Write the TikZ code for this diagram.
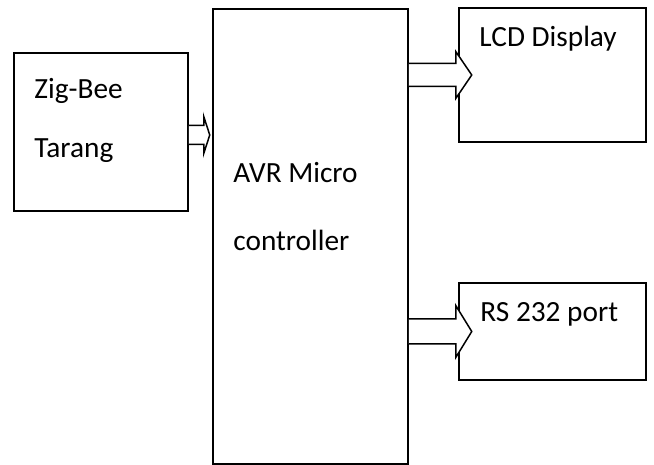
\documentclass[tikz,border=0pt]{standalone}
\usepackage{fontspec}
\setmainfont{Carlito}
\usetikzlibrary{calc, positioning}

% hollow block arrow: start, shaft length, head length, shaft half, head half
\newcommand{\fatarrow}[5]{%
  \fill[white] ($#1+(0,#4)$) -- ++(#2,0) -- ++(0,#5-#4) -- ++(#3,-#5) -- ++(-#3,-#5) -- ++(0,#5-#4) -- ++(-#2,0) -- cycle;
  \draw[line width=1.5pt, line join=miter] ($#1+(0,#4)$) -- ++(#2,0) -- ++(0,#5-#4) -- ++(#3,-#5) -- ++(-#3,-#5) -- ++(0,#5-#4) -- ++(-#2,0);
}

\begin{document}
\begin{tikzpicture}[
          x=1pt, y=1pt,
          box/.style={draw, line width=1.5pt, inner sep=0pt, fill=white},
          txt/.style={anchor=base west, inner sep=0pt, font=\fontsize{29.3}{35}\selectfont}
        ]
          \useasboundingbox (0,0) rectangle (654,465);
          % blocks
          \node[box, minimum width=174, minimum height=158] (zig) at (101,333) {};
          \node[box, minimum width=195, minimum height=455] (avr) at (310.5,228.5) {};
          \node[box, minimum width=187, minimum height=134] (lcd) at (552.5,390) {};
          \node[box, minimum width=187, minimum height=97] (rs) at (552.5,133.5) {};
          % labels
          \node[txt] (zig1) at ($(zig.north west)+(21,-46)$) {Zig-Bee};
          \node[txt] (zig2) at ($(zig.north west)+(21,-105)$) {Tarang};
          \node[txt] (avr1) at ($(avr.north west)+(21,-174)$) {AVR Micro};
          \node[txt] (avr2) at ($(avr.north west)+(21,-242)$) {controller};
          \node[txt] (lcd1) at ($(lcd.north west)+(21,-39)$) {LCD Display};
          \node[txt] (rs1) at ($(rs.north west)+(22,-39)$) {RS 232 port};
          % arrows
          \coordinate (zigout) at ($(zig.east)+(0,-3)$);
          \coordinate (lcdout) at (avr.east |- lcd.west);
          \coordinate (rsout) at (avr.east |- rs.west);
          \fatarrow{(zigout)}{15}{6}{9.5}{18.5}
          \fatarrow{(lcdout)}{47}{16}{11.5}{23.5}
          \fatarrow{(rsout)}{47}{16}{12.5}{26}
        \end{tikzpicture}
\end{document}
